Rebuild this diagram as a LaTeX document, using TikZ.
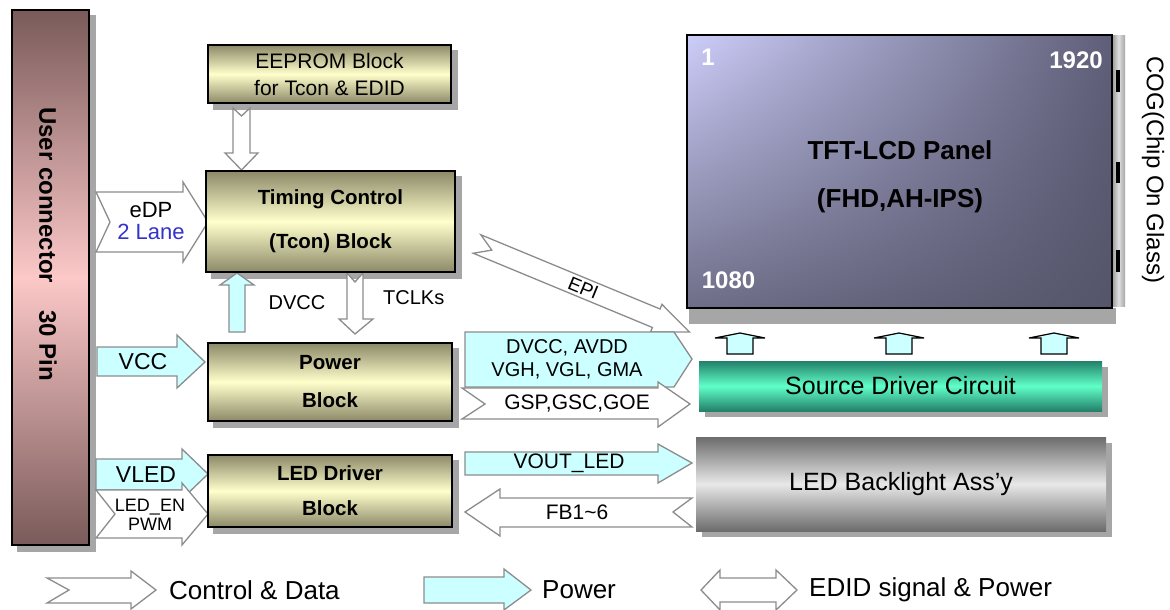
\documentclass[tikz,border=0pt]{standalone}
\usepackage{fontspec}
\setmainfont{Liberation Sans}
\usetikzlibrary{backgrounds,shadings}
\definecolor{olv}{HTML}{8C8968}
\definecolor{lyel}{HTML}{FFFFCC}
\definecolor{brn}{HTML}{7A5A5A}
\definecolor{pnk}{HTML}{FCC8C8}
\definecolor{pcyan}{HTML}{CCFFFF}
\definecolor{agray}{HTML}{8C8C8C}
\definecolor{shgray}{HTML}{A6A6A6}
\definecolor{tealD}{HTML}{23806A}
\definecolor{tealL}{HTML}{60FFC8}
\definecolor{gD}{HTML}{6C6C6C}
\definecolor{gL}{HTML}{E8E8E8}
\definecolor{laneblue}{HTML}{3333CC}
\definecolor{pnUL}{HTML}{CDCDFA}
\definecolor{pnUR}{HTML}{5E5E78}
\definecolor{pnLL}{HTML}{6E6E88}
\definecolor{pnLR}{HTML}{54546A}
\newcommand\myfs[2]{\fontsize{#1}{#2}\selectfont}
\begin{document}
\begin{tikzpicture}[x=1pt,y=-1pt,
 ctrl/.style={draw=agray,fill=white,line width=1.3pt,line join=miter},
 pwr/.style={draw=agray,fill=pcyan,line width=1.3pt,line join=miter},
 blk/.style={draw=black,line width=1.5pt,top color=olv,bottom color=olv,middle color=lyel,inner sep=0pt,align=center},
 shd/.style={fill=shgray},
 lbl/.style={inner sep=0pt,align=center},
 uparr/.style={draw=black,fill=pcyan,line width=1.2pt,line join=miter},
]
\useasboundingbox (0,0) rectangle (1170,610);

% ---------- arrows ----------
% eDP
\draw[ctrl] (96,192) -- (183,192) -- (183,182) -- (208,222) -- (183,262) -- (183,252) -- (96,252) -- (110,222) -- cycle;
\node[lbl,font=\myfs{22}{22}] (edp) at (151,221) {eDP\\\textcolor{laneblue}{2 Lane}};
% VCC
\draw[pwr] (97,347) -- (177,347) -- (177,335) -- (205,362) -- (177,388) -- (177,376) -- (97,376) -- cycle;
\node[lbl,font=\myfs{23}{23}] (vcc) at (143,362) {VCC};
% VLED
\draw[pwr] (96,459) -- (182,459) -- (182,449) -- (208,474) -- (182,499) -- (182,490) -- (96,490) -- cycle;
\node[lbl,font=\myfs{23}{23}] (vled) at (146,475) {VLED};
% LED_EN PWM
\draw[ctrl] (96,490) -- (182,490) -- (182,483) -- (208,514) -- (182,545) -- (182,538) -- (96,538) -- (115,514) -- cycle;
\node[lbl,font=\myfs{18}{19}] (leden) at (150,515) {LED\_EN\\PWM};
% EEPROM -> Tcon
\draw[ctrl] (233,108) -- (241.5,116) -- (250,108) -- (250,153) -- (258,153) -- (241.5,170) -- (225,153) -- (233,153) -- cycle;
% DVCC up
\draw[pwr] (229,332) -- (245,332) -- (245,285) -- (254,285) -- (237,273) -- (220,285) -- (229,285) -- cycle;
\node[lbl,font=\myfs{20}{20}] (dvcc) at (297,303) {DVCC};
% TCLKs down
\draw[ctrl] (347,273) -- (355,282) -- (363,273) -- (363,319) -- (373,319) -- (355,334) -- (339,319) -- (347,319) -- cycle;
\node[lbl,font=\myfs{20}{20},anchor=west] (tclk) at (383,298) {TCLKs};
% EPI
\begin{scope}[shift={(477,244)},rotate=-22.5]
\draw[ctrl] (0,-10) -- (194,-10) -- (194,-15) -- (230,0) -- (194,15) -- (194,10) -- (0,10) -- (16,0) -- cycle;
\node[lbl,rotate=-22.5,font=\myfs{19}{19}] (epi) at (115,0) {EPI};
\end{scope}
% DVCC, AVDD ...
\draw[pwr] (465,332) -- (674,332) -- (692,359) -- (674,387) -- (465,387) -- cycle;
\node[lbl,font=\myfs{20}{23}] (pwrs) at (567,359.5) {DVCC, AVDD\\VGH, VGL, GMA};
% GSP
\draw[ctrl] (462,388) -- (658,388) -- (658,382) -- (690,404) -- (658,427) -- (658,419) -- (462,419) -- (485,404) -- cycle;
\node[lbl,font=\myfs{21}{21}] (gsp) at (577,404) {GSP,GSC,GOE};
% VOUT_LED
\draw[pwr] (465,452) -- (658,452) -- (658,444) -- (692,463) -- (658,483) -- (658,475) -- (465,475) -- cycle;
\node[lbl,font=\myfs{21}{21}] (vout) at (569,463) {VOUT\_LED};
% FB
\draw[ctrl] (692,498) -- (500,498) -- (500,489) -- (465,512) -- (500,536) -- (500,527) -- (692,527) -- (673,512) -- cycle;
\node[lbl,font=\myfs{21}{21}] (fb) at (577,512) {FB1\textasciitilde6};
% small up arrows to panel
\foreach \cx in {740,899,1054}{
 \draw[uparr] (\cx-25,338) -- (\cx,333) -- (\cx+25,338) -- (\cx+13,338) -- (\cx+13,354) -- (\cx-13,354) -- (\cx-13,338) -- cycle;
}

% ---------- boxes ----------
\node[draw=black,line width=1.5pt,top color=brn,bottom color=brn,middle color=pnk,minimum width=77pt,minimum height=535pt,inner sep=0pt] (uc) at (50.5,277.5) {};
\node[lbl,rotate=-90,font=\bfseries\myfs{24}{28}] (uct) at (48,244) {User connector\hspace{27pt}30 Pin};

\node[blk,minimum width=243pt,minimum height=58pt,font=\myfs{21}{27}] (eeprom) at (329.5,74) {EEPROM Block\\for Tcon \& EDID};
\node[blk,minimum width=249pt,minimum height=101pt,font=\bfseries\myfs{20.5}{44}] (tcon) at (330.5,221.5) {Timing Control\\(Tcon) Block};
\node[blk,minimum width=244pt,minimum height=78pt,font=\bfseries\myfs{20.5}{38}] (power) at (330,382) {Power\\Block};
\node[blk,minimum width=244pt,minimum height=72pt,font=\bfseries\myfs{20.5}{35}] (led) at (330,491) {LED Driver\\Block};

\node[draw=black,line width=1.5pt,upper left=pnUL,upper right=pnUR,lower left=pnLL,lower right=pnLR,minimum width=425pt,minimum height=273pt,inner sep=0pt] (panel) at (899.5,171.5) {};
\node[lbl,font=\bfseries\myfs{26}{48}] (ptitle) at (900,177) {TFT-LCD Panel\\(FHD,AH-IPS)};
\node[lbl,text=white,font=\bfseries\myfs{24}{24}] (p1) at (708,57) {1};
\node[lbl,text=white,font=\bfseries\myfs{24}{24}] (p1920) at (1076,60) {1920};
\node[lbl,text=white,font=\bfseries\myfs{24}{24}] (p1080) at (728.5,280) {1080};
\node[lbl,rotate=-90,font=\myfs{24}{24}] (cog) at (1153,170) {COG(Chip On Glass)};

\node[top color=tealD,bottom color=tealD,middle color=tealL,minimum width=403pt,minimum height=50pt,inner sep=0pt,font=\myfs{25}{25}] (src) at (900.5,386) {Source Driver Circuit};
\node[top color=gD,bottom color=gD,middle color=gL,minimum width=410pt,minimum height=94pt,inner sep=0pt,font=\myfs{25}{25}] (bl) at (901,484) {LED Backlight Ass’y};

% ---------- background: page and shadows ----------
\begin{scope}[on background layer]
\fill[white] (0,0) rectangle (1170,610);
\foreach \b in {uc,eeprom,tcon,power,led,src,bl}{
 \fill[shd] ([shift={(6,6)}]\b.north west) rectangle ([shift={(6,6)}]\b.south east);
}
\shade[left color=gray!80,right color=gray!70,middle color=gray!25] (1112,36) rectangle (1125,306);
\fill[shgray] (689,308) rectangle (1116,324);
\fill[black] (1116,70) rectangle (1120,92);
\fill[black] (1116,162) rectangle (1120,183);
\fill[black] (1116,250) rectangle (1120,272);
\end{scope}

% ---------- legend ----------
\draw[ctrl] (47,578) -- (131,578) -- (131,571) -- (156,590) -- (131,609) -- (131,603) -- (47,603) -- (69,590) -- cycle;
\node[lbl,anchor=west,font=\myfs{26}{26}] (lg1) at (169,590) {Control \& Data};
\draw[pwr] (424,577) -- (504,577) -- (504,569) -- (531,590) -- (504,610) -- (504,603) -- (424,603) -- cycle;
\node[lbl,anchor=west,font=\myfs{26}{26}] (lg2) at (542,590) {Power};
\draw[ctrl] (701,590) -- (720,570) -- (720,578) -- (776,578) -- (776,570) -- (797,590) -- (776,610) -- (776,602) -- (720,602) -- (720,610) -- cycle;
\node[lbl,anchor=west,font=\myfs{26}{26}] (lg3) at (809,590) {EDID signal \& Power};
\end{tikzpicture}
\end{document}
